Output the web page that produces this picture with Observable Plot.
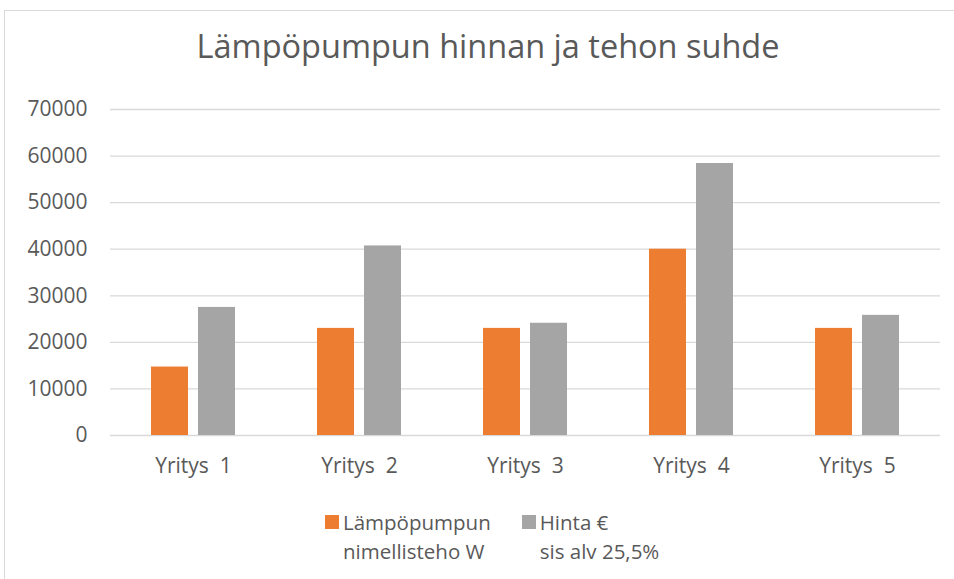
<!DOCTYPE html>
<html>
<head>
<meta charset="utf-8">
<script src="https://cdn.jsdelivr.net/npm/d3@7"></script>
<script src="https://cdn.jsdelivr.net/npm/@observablehq/plot@0.6"></script>
<style>
  html, body { margin: 0; padding: 0; background: #fff; }
  #wrap { position: relative; width: 954px; height: 579px; overflow: hidden; font-family: "Open Sans", sans-serif; color: #595959; }
  #frame { position: absolute; left: 4px; top: 10px; width: 1000px; height: 700px; border: 1px solid #d9d9d9; box-sizing: border-box; }
  #title { position: absolute; left: 0; width: 976px; top: 26px; text-align: center; font-size: 32.5px; line-height: 40px; color: #595959; }
  #chart { position: absolute; left: 0; top: 0; }
  #chart svg text { white-space: pre; }
  #legend { position: absolute; left: 325px; top: 508px; display: flex; gap: 31px; font-size: 20.5px; line-height: 29px; color: #595959; }
  .item { display: flex; align-items: flex-start; }
  .sw { width: 14px; height: 14px; margin-top: 7px; margin-right: 4px; flex: none; }
</style>
</head>
<body>
<div id="wrap">
  <div id="frame"></div>
  <div id="title">Lämpöpumpun hinnan ja tehon suhde</div>
  <div id="chart"></div>
  <div id="legend"></div>
</div>
<script>
const companies = ["Yritys  1", "Yritys  2", "Yritys  3", "Yritys  4", "Yritys  5"];
const legendLines = [["Lämpöpumpun", "nimellisteho W"], ["Hinta €", "sis alv 25,5%"]];
const seriesNames = legendLines.map(l => l.join(" "));
const powerW = [14700, 23000, 23000, 40000, 23000];
const priceEur = [27500, 40700, 24100, 58400, 25800];
const yTicks = [0, 10000, 20000, 30000, 40000, 50000, 60000, 70000];
const colors = ["#ED7D31", "#A5A5A5"];

const data = companies.flatMap((c, i) => [
  {company: c, series: seriesNames[0], value: powerW[i]},
  {company: c, series: seriesNames[1], value: priceEur[i]}
]);

const chart = Plot.plot({
  width: 954,
  height: 500,
  marginLeft: 109,
  marginRight: 14,
  marginTop: 109,
  marginBottom: 65,
  style: {fontFamily: "Open Sans", fontSize: "21px", color: "#595959", background: "transparent", overflow: "visible"},
  fx: {domain: companies, padding: 0, label: null, tickSize: 0, tickPadding: 23, axis: "bottom"},
  x: {domain: seriesNames, axis: null, paddingInner: 0.214, paddingOuter: 0.849},
  y: {domain: [0, 70000], ticks: yTicks, tickSize: 0, tickPadding: 23, label: null, tickFormat: d => String(d)},
  color: {domain: seriesNames, range: colors},
  marks: [
    Plot.ruleY(yTicks, {stroke: "#d9d9d9", strokeWidth: 1.3}),
    Plot.barY(data, {fx: "company", x: "series", y: "value", fill: "series"})
  ]
});
document.getElementById("chart").appendChild(chart);

const legend = document.getElementById("legend");
legendLines.forEach((lines, i) => {
  const item = document.createElement("div");
  item.className = "item";
  const sw = document.createElement("div");
  sw.className = "sw";
  sw.style.background = colors[i];
  const txt = document.createElement("div");
  txt.innerHTML = lines.join("<br>");
  item.appendChild(sw);
  item.appendChild(txt);
  legend.appendChild(item);
});
</script>
</body>
</html>
